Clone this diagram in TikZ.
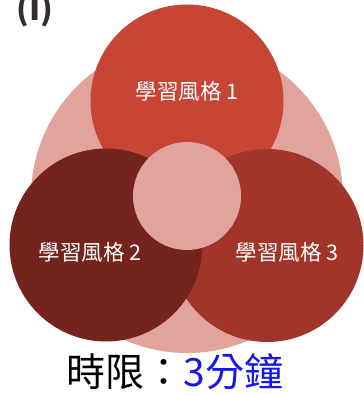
\documentclass[tikz,border=0pt]{standalone}
\usepackage{fontspec}
\newfontfamily\cjk{Noto Sans CJK TC}
\definecolor{cpink}{RGB}{224,164,157}
\definecolor{cred}{RGB}{198,69,52}
\definecolor{cdark}{RGB}{116,36,29}
\definecolor{cmid}{RGB}{161,53,42}
\definecolor{cblue}{RGB}{22,22,235}
\definecolor{cgray}{RGB}{51,45,45}
\begin{document}
\begin{tikzpicture}[x=1pt,y=-1pt,
  disc/.style={circle,inner sep=0pt,draw=none,minimum size=#1},
  lbl/.style={font=\cjk\fontsize{21.5}{24}\selectfont,text=white,inner sep=0pt}]
\useasboundingbox (0,0) rectangle (363,395);
\node[disc=312pt,fill=cpink] (big) at (187,197) {};
\node[disc=193pt,fill=cred] (c1) at (187,101) {};
\node[disc=193pt,fill=cmid] (c3) at (267,245.5) {};
\node[disc=193pt,fill=cdark] (c2) at (106,245) {};
\node[disc=108pt,fill=cpink] (mid) at (187,196) {};
\node[lbl] (l1) at (187,91) {學習風格 1};
\node[lbl] (l2) at (90,252) {學習風格 2};
\node[lbl] (l3) at (287,252) {學習風格 3};
\node[font=\cjk\bfseries\fontsize{32}{36}\selectfont,text=cgray,inner sep=0pt,anchor=base] (tag) at (35,21) {(I)};
\node[font=\cjk\fontsize{39}{44}\selectfont,inner sep=0pt] (time) at (175,372) {時限：\textcolor{cblue}{3分鐘}};
\end{tikzpicture}
\end{document}
